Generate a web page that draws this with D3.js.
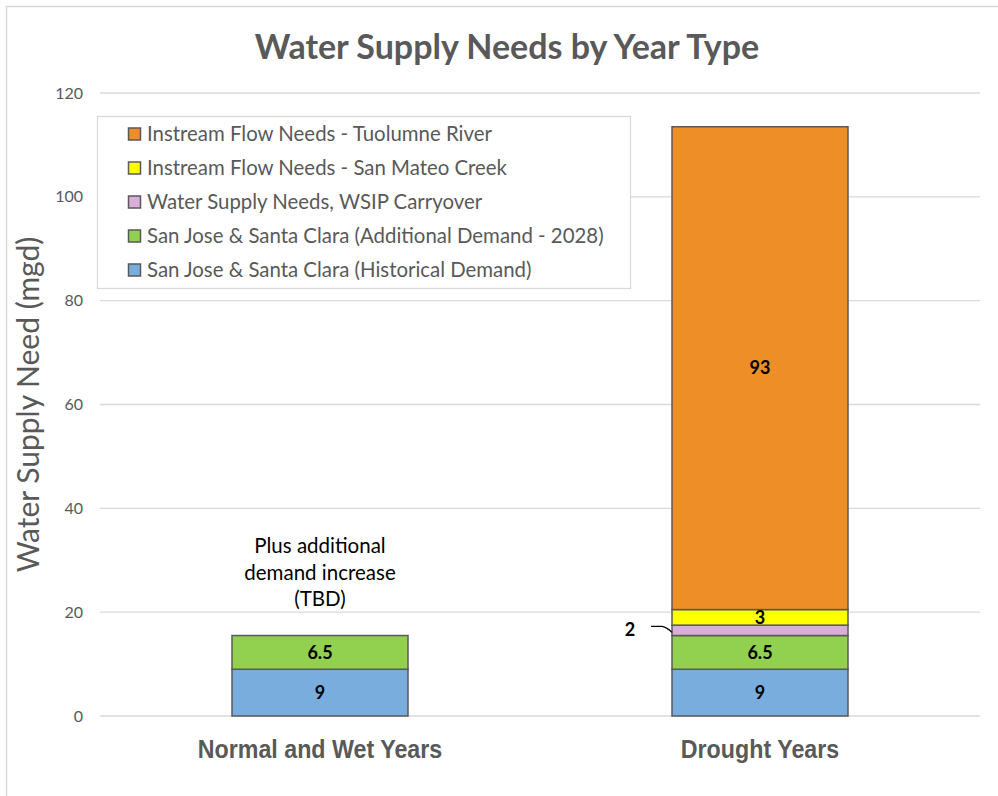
<!DOCTYPE html>
<html>
<head>
<meta charset="utf-8">
<title>Water Supply Needs by Year Type</title>
<script src="https://cdn.jsdelivr.net/npm/d3@7"></script>
<style>
  body { margin: 0; background: #fff; }
  svg { display: block; }
  .sans { font-family: Lato, "Open Sans", "Noto Sans", sans-serif; }
</style>
</head>
<body>
<div id="chart"></div>
<script>
const width = 998, height = 796;

// data
const categories = ["Normal and Wet Years", "Drought Years"];
const seriesNames = [
  "San Jose & Santa Clara (Historical Demand)",
  "San Jose & Santa Clara (Additional Demand - 2028)",
  "Water Supply Needs, WSIP Carryover",
  "Instream Flow Needs - San Mateo Creek",
  "Instream Flow Needs - Tuolumne River"
];
const historical = [9, 9];
const additional = [6.5, 6.5];
const carryover = [0, 2];
const sanMateo = [0, 3];
const tuolumne = [0, 93];
const colors = ["#79ADDE", "#92D050", "#D9AFD9", "#FFFF00", "#ED8E26"];
const yTicks = [0, 20, 40, 60, 80, 100, 120];
const note = ["Plus additional", "demand increase", "(TBD)"];

const rows = categories.map((c, i) => ({
  cat: c,
  s0: historical[i], s1: additional[i], s2: carryover[i], s3: sanMateo[i], s4: tuolumne[i]
}));
const keys = ["s0", "s1", "s2", "s3", "s4"];
const stacked = d3.stack().keys(keys)(rows);

const margin = { left: 100, right: 18, top: 93, bottom: 80 };

const svg = d3.select("#chart").append("svg")
  .attr("width", width)
  .attr("height", height);

// outer frame
svg.append("rect")
  .attr("x", 6.5).attr("y", 6.5)
  .attr("width", width + 10).attr("height", height + 10)
  .attr("fill", "#fff")
  .attr("stroke", "#D9D9D9")
  .attr("stroke-width", 1.5);

const x = d3.scaleBand()
  .domain(categories)
  .range([margin.left, width - margin.right])
  .paddingInner(0.6)
  .paddingOuter(0.3);

const y = d3.scaleLinear()
  .domain([0, 120])
  .range([height - margin.bottom, margin.top]);

// gridlines
svg.append("g")
  .selectAll("line")
  .data(yTicks)
  .join("line")
  .attr("x1", margin.left).attr("x2", width - margin.right)
  .attr("y1", d => y(d)).attr("y2", d => y(d))
  .attr("stroke", "#D9D9D9")
  .attr("stroke-width", 1.3);

// y axis labels
const yAxis = svg.append("g")
  .attr("transform", `translate(${margin.left - 8},0)`)
  .call(d3.axisLeft(y).tickValues(yTicks).tickSize(0).tickPadding(9));
yAxis.select(".domain").remove();
yAxis.selectAll("text")
  .attr("class", "sans")
  .attr("font-size", 16)
  .attr("fill", "#595959");

// y axis title
svg.append("text")
  .attr("class", "sans")
  .attr("transform", `translate(39,${(y(0) + y(120)) / 2}) rotate(-90)`)
  .attr("text-anchor", "middle")
  .attr("font-size", 30)
  .attr("fill", "#595959")
  .text("Water Supply Need (mgd)");

// title
svg.append("text")
  .attr("class", "sans")
  .attr("x", 507).attr("y", 59)
  .attr("text-anchor", "middle")
  .attr("font-size", 34)
  .attr("font-weight", "bold")
  .attr("fill", "#595959")
  .text("Water Supply Needs by Year Type");

// bars
const layers = svg.append("g")
  .selectAll("g")
  .data(stacked)
  .join("g")
  .attr("fill", (d, i) => colors[i]);

layers.selectAll("rect")
  .data(d => d.filter(p => p[1] - p[0] > 0))
  .join("rect")
  .attr("x", d => x(d.data.cat))
  .attr("width", x.bandwidth())
  .attr("y", d => y(d[1]))
  .attr("height", d => y(d[0]) - y(d[1]))
  .attr("stroke", "#595959")
  .attr("stroke-width", 1.5);

// value labels inside segments
stacked.forEach((layer, i) => {
  layer.forEach(p => {
    const v = p[1] - p[0];
    if (v <= 0) return;
    const cx = x(p.data.cat) + x.bandwidth() / 2;
    if (keys[i] === "s2") {
      // small segment: label to the left with a leader line
      const my = y((p[0] + p[1]) / 2);
      svg.append("text")
        .attr("class", "sans")
        .attr("x", x(p.data.cat) - 42).attr("y", my - 1)
        .attr("dy", "0.35em")
        .attr("text-anchor", "middle")
        .attr("font-size", 18)
        .attr("font-weight", "bold")
        .attr("fill", "#000")
        .text(v);
      svg.append("path")
        .attr("d", `M${x(p.data.cat) - 21},${my - 4} L${x(p.data.cat) - 10},${my - 4} Q${x(p.data.cat) - 5},${my - 3} ${x(p.data.cat)},${my + 2}`)
        .attr("fill", "none")
        .attr("stroke", "#000")
        .attr("stroke-width", 1.2);
      return;
    }
    svg.append("text")
      .attr("class", "sans")
      .attr("x", cx).attr("y", y((p[0] + p[1]) / 2))
      .attr("dy", "0.35em")
      .attr("text-anchor", "middle")
      .attr("font-size", 18)
      .attr("font-weight", "bold")
      .attr("fill", "#000")
      .text(v);
  });
});

// note above normal years bar
svg.append("text")
  .attr("class", "sans")
  .attr("x", x(categories[0]) + x.bandwidth() / 2)
  .attr("y", 553)
  .attr("text-anchor", "middle")
  .attr("font-size", 20.5)
  .attr("fill", "#000")
  .selectAll("tspan")
  .data(note)
  .join("tspan")
  .attr("x", x(categories[0]) + x.bandwidth() / 2)
  .attr("dy", (d, i) => i === 0 ? 0 : 26.5)
  .text(d => d);

// category labels (narrow bold face, squeezed horizontally)
svg.append("g")
  .selectAll("text")
  .data(categories)
  .join("text")
  .attr("transform", d => `translate(${x(d) + x.bandwidth() / 2},758) scale(0.93,1)`)
  .attr("text-anchor", "middle")
  .attr("font-family", "'Liberation Sans Narrow', 'Arial Narrow', 'Liberation Sans', sans-serif")
  .attr("font-size", 25)
  .attr("font-weight", "bold")
  .attr("fill", "#595959")
  .text(d => d);

// legend
const legend = svg.append("g");
legend.append("rect")
  .attr("x", 97.5).attr("y", 116.5)
  .attr("width", 533).attr("height", 172)
  .attr("fill", "#fff")
  .attr("stroke", "#D9D9D9")
  .attr("stroke-width", 1.3);

const legendItems = seriesNames.map((n, i) => ({ name: n, color: colors[i] })).reverse();
const li = legend.selectAll("g.item")
  .data(legendItems)
  .join("g")
  .attr("class", "item")
  .attr("transform", (d, i) => `translate(128,${134 + i * 34})`);
li.append("rect")
  .attr("x", 0.5).attr("y", -6)
  .attr("width", 12).attr("height", 12)
  .attr("fill", d => d.color)
  .attr("stroke", "#595959")
  .attr("stroke-width", 1.5);
li.append("text")
  .attr("class", "sans")
  .attr("x", 19).attr("y", 0)
  .attr("dy", "0.35em")
  .attr("font-size", 20.4)
  .attr("fill", "#595959")
  .text(d => d.name);
</script>
</body>
</html>
